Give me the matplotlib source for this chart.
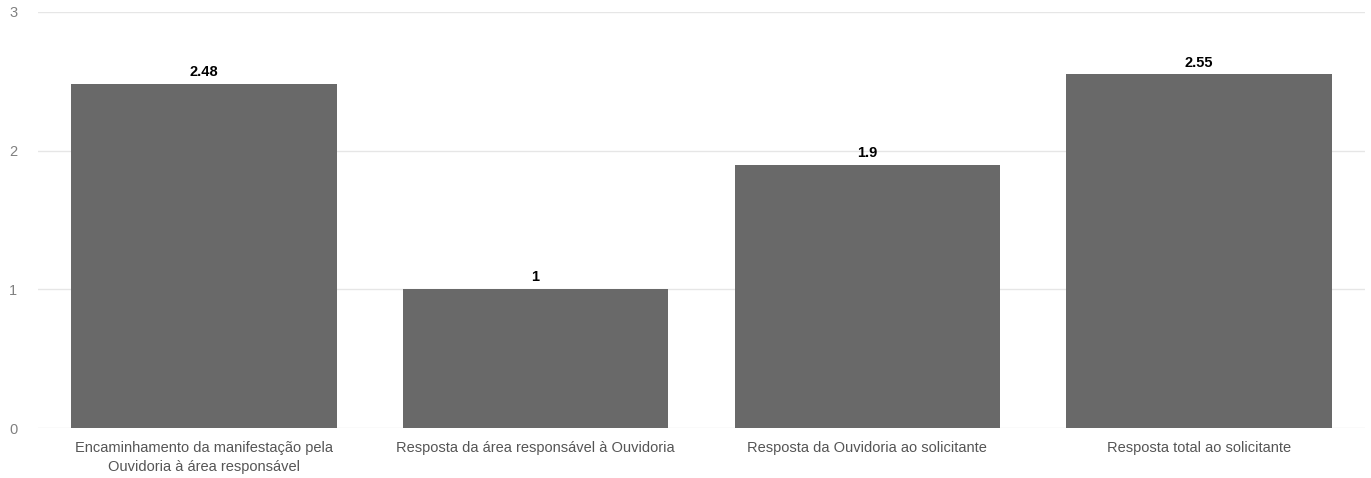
import matplotlib
matplotlib.use("Agg")
import matplotlib.pyplot as plt

categories = [
    "Encaminhamento da manifestação pela\nOuvidoria à área responsável",
    "Resposta da área responsável à Ouvidoria",
    "Resposta da Ouvidoria ao solicitante",
    "Resposta total ao solicitante",
]
values = [2.48, 1, 1.9, 2.55]
value_labels = ["2.48", "1", "1.9", "2.55"]
yticks = [0, 1, 2, 3]

plt.rcParams["font.family"] = ["Liberation Sans", "DejaVu Sans"]

fig = plt.figure(figsize=(13.71, 4.78), dpi=100)
ax = fig.add_axes([0.0277, 0.1046, 0.9679, 0.8703])

x = range(len(categories))
bars = ax.bar(x, values, width=0.8, color="#696969", zorder=2)
for b, lab in zip(bars, value_labels):
    ax.text(b.get_x() + b.get_width() / 2, b.get_height() + 0.035, lab,
            ha="center", va="bottom", fontsize=10.5, fontweight="bold", color="black")

ax.set_xlim(-0.5, 3.5)
ax.set_ylim(0, 3)
ax.set_yticks(yticks)
ax.set_yticklabels([str(t) for t in yticks])
ax.set_xticks(list(x))
ax.set_xticklabels(categories, linespacing=1.5)
ax.tick_params(axis="both", length=0, labelsize=10.5)
ax.tick_params(axis="y", pad=15, labelcolor="#808080")
ax.tick_params(axis="x", pad=9, labelcolor="#555555")
ax.grid(axis="y", color="#e6e6e6", linewidth=1, zorder=0)
for s in ax.spines.values():
    s.set_visible(False)

fig.savefig("out.png", dpi=100)
